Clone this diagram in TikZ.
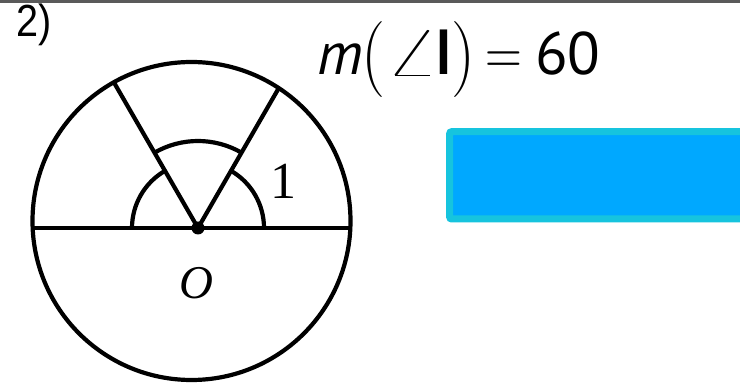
\documentclass[tikz,border=0pt]{standalone}
\usepackage{fix-cm}
\usepackage{graphicx}
\usepackage{fontspec}
\newfontfamily\formf{PT Sans}
\newfontfamily\latof{Lato}
\newfontfamily\arialf{Liberation Sans}
\newfontfamily\timesf{Liberation Serif}
\definecolor{boxfill}{RGB}{0,168,255}
\definecolor{boxedge}{RGB}{22,196,222}
\definecolor{topgray}{RGB}{90,90,90}
\newcommand{\seg}[2]{\makebox[#1][l]{#2}}
\begin{document}
\begin{tikzpicture}[x=1pt,y=1pt,
  geo/.style={line width=4.2pt},
  lbl/.style={inner sep=0pt}]
\useasboundingbox (0,0) rectangle (740,383);
\fill[topgray] (0,380.3) rectangle (740,383);
% circle
\coordinate (C) at (191.5,162);
\coordinate (O) at (198,155);
\draw[geo] (C) circle[radius=159];
\coordinate (L) at (33,155);
\coordinate (R) at (350,155);
\draw[geo] (L) -- (R);
\coordinate (A) at ([shift={(120:168.3)}]O);
\coordinate (B) at ([shift={(60:161.5)}]O);
\draw[geo] (O) -- (A);
\draw[geo] (O) -- (B);
% arcs
\draw[geo] ([shift={(0:66)}]O) arc[start angle=0,end angle=60,radius=66];
\draw[geo] ([shift={(120:66)}]O) arc[start angle=120,end angle=180,radius=66];
\draw[geo] ([shift={(60:87)}]O) arc[start angle=60,end angle=120,radius=87];
\fill (O) circle[radius=6.5];
% labels
\node[lbl] (one) at (283,202) {\fontsize{52}{52}\selectfont\timesf 1};
\node[lbl] (oname) at (196,100) {\fontsize{47}{47}\selectfont\timesf\itshape O};
\node[lbl,anchor=base west] (num) at (16,346) {\fontsize{45}{45}\selectfont\arialf\scalebox{0.88}[1]{2)}};
\node[lbl,anchor=base west] (formula) at (317,308) {\fontsize{60}{60}\selectfont
  \seg{44pt}{\formf\itshape m}%
  \seg{24.4pt}{\raisebox{-4pt}{\resizebox*{24pt}{76pt}{\normalfont(}}}%
  \seg{51pt}{\resizebox{54pt}{44pt}{$\angle$}}%
  \seg{14.6pt}{\latof\bfseries l}%
  \seg{34pt}{\raisebox{-4pt}{\resizebox*{24pt}{76pt}{\normalfont)}}}%
  \seg{50pt}{\fontsize{51}{51}\selectfont\normalfont\scalebox{1}[1.25]{=}}%
  {\formf 60}};
% answer box
\node[draw=boxedge,fill=boxfill,line width=7pt,rounded corners=2pt,
  minimum width=297pt,minimum height=87.3pt,anchor=south west,inner sep=0pt] (box) at (446.2,160.5) {};
\end{tikzpicture}
\end{document}
